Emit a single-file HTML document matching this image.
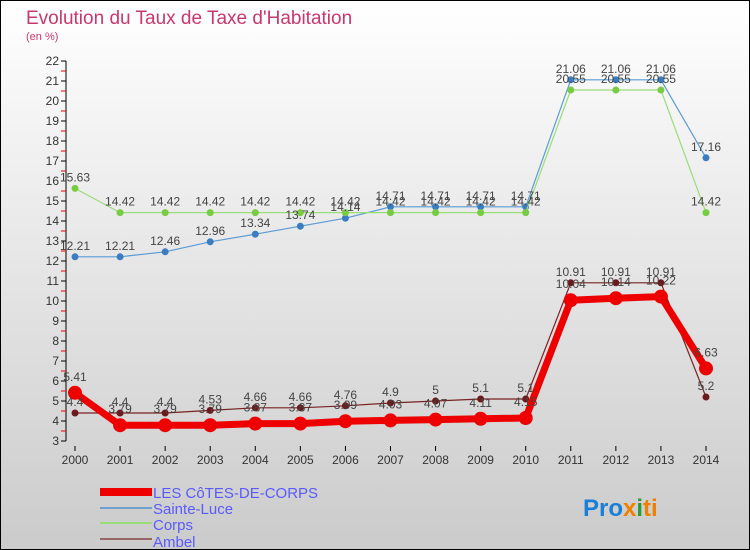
<!DOCTYPE html>
<html><head><meta charset="utf-8"><style>
body{margin:0}
svg{display:block;font-family:"Liberation Sans",sans-serif}
</style></head><body>
<svg id="c" width="750" height="550" xmlns="http://www.w3.org/2000/svg">
<defs><linearGradient id="bg" x1="0" y1="0" x2="0" y2="1"><stop offset="0" stop-color="#ffffff"/><stop offset="1" stop-color="#cbcbcb"/></linearGradient></defs>
<rect x="0.5" y="0.5" width="749" height="549" fill="url(#bg)" stroke="#000"/>
<text x="26" y="24" font-size="19" fill="#c8386e">Evolution du Taux de Taxe d'Habitation</text>
<text x="26" y="40" font-size="11" fill="#c8386e">(en %)</text>
<g id="axes"></g><g id="series"></g><g id="labels"></g>
<g>
<rect x="100" y="488" width="52" height="8" fill="#e00"/>
<text x="153" y="498" font-size="15" fill="#5a5aff">LES CôTES-DE-CORPS</text>
<rect x="100" y="507" width="52" height="2" fill="#6fa0cc"/>
<text x="153" y="514" font-size="15" fill="#5a5aff">Sainte-Luce</text>
<rect x="100" y="522" width="52" height="2" fill="#99dd77"/>
<text x="153" y="530" font-size="15" fill="#5a5aff">Corps</text>
<rect x="100" y="538" width="52" height="2" fill="#996666"/>
<text x="153" y="547" font-size="15" fill="#5a5aff">Ambel</text>
</g>
<text x="583" y="516" font-size="24" font-weight="bold"><tspan fill="#1a7fd6">Pro</tspan><tspan fill="#f08000">x</tspan><tspan fill="#2a9a3a">i</tspan><tspan fill="#f08000">ti</tspan></text>
</svg>
<script>
const years=["2000","2001","2002","2003","2004","2005","2006","2007","2008","2009","2010","2011","2012","2013","2014"];
const yTicks=[3,4,5,6,7,8,9,10,11,12,13,14,15,16,17,18,19,20,21,22];
const cotes=[5.41,3.79,3.79,3.79,3.87,3.87,3.99,4.03,4.07,4.11,4.15,10.04,10.14,10.22,6.63];
const sainteLuce=[12.21,12.21,12.46,12.96,13.34,13.74,14.14,14.71,14.71,14.71,14.71,21.06,21.06,21.06,17.16];
const corps=[15.63,14.42,14.42,14.42,14.42,14.42,14.42,14.42,14.42,14.42,14.42,20.55,20.55,20.55,14.42];
const ambel=[4.4,4.4,4.4,4.53,4.66,4.66,4.76,4.9,5,5.1,5.1,10.91,10.91,10.91,5.2];
const NS="http://www.w3.org/2000/svg";
const x=i=>75+i*(706-75)/(years.length-1);
const y=v=>441-(v-3)*(441-61)/19;
function mk(tag,attrs,parent){const e=document.createElementNS(NS,tag);for(const k in attrs)e.setAttribute(k,attrs[k]);parent.appendChild(e);return e;}
const ax=document.getElementById('axes'),sr=document.getElementById('series'),lb=document.getElementById('labels');
let a=mk('line',{x1:66,y1:y(22),x2:66,y2:y(3),stroke:'#000'},ax);


yTicks.forEach(t=>{
  mk('line',{x1:61,x2:66,y1:y(t),y2:y(t),stroke:'#000'},ax);
  if(t<22)mk('line',{x1:61,x2:66,y1:y(t+0.5),y2:y(t+0.5),stroke:'#e00'},ax);
  const tx=mk('text',{x:59,y:y(t)+4,'font-size':12,fill:'#333','text-anchor':'end'},ax);
  tx.textContent=t;
  
  
});
years.forEach((yr,i)=>{
  mk('line',{x1:x(i),x2:x(i),y1:446,y2:451,stroke:'#000'},ax);
  const tx=mk('text',{x:x(i),y:464,'font-size':12,fill:'#333','text-anchor':'middle'},ax);
  tx.textContent=yr;
  
  
});
function series(vals,name,color,w,r,dot,dy){
  const p=mk('polyline',{points:vals.map((v,i)=>x(i)+','+y(v)).join(' '),fill:'none',stroke:color,'stroke-width':w,'stroke-linejoin':'round'},sr);
  
  
  vals.forEach((v,i)=>{
    const c=mk('circle',{cx:x(i),cy:y(v),r:r,fill:dot},sr);
    
    
    const t=mk('text',{x:x(i),y:y(v)+dy,'font-size':12,fill:'#444','text-anchor':'middle'},lb);
    t.textContent=v;
    
    
  });
}
series(sainteLuce,'sainte-luce','#5b9bd5',1.2,3.5,'#3a7ec0',-7);
series(corps,'corps','#99dd77',1.2,3.5,'#77cc44',-7);
series(ambel,'ambel','#772222',1.2,3.5,'#6a1a1a',-7);
series(cotes,'les-cotes','#ee0000',7,7,'#ee0000',-12);
</script>
</body></html>
